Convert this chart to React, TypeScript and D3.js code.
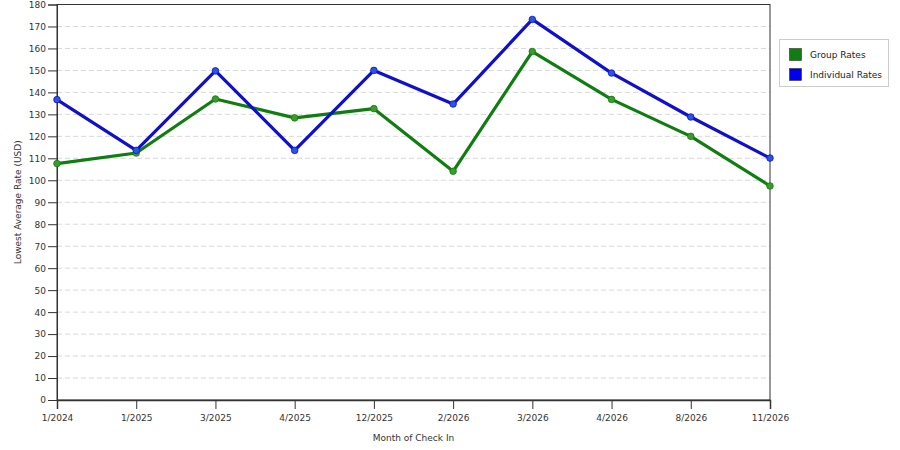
import { useEffect, useRef } from "react";
import * as d3 from "d3";

const months = ["1/2024", "1/2025", "3/2025", "4/2025", "12/2025", "2/2026", "3/2026", "4/2026", "8/2026", "11/2026"];
const groupRates = [107.6, 112.4, 137, 128.4, 132.6, 104.1, 158.6, 136.8, 120, 97.4];
const individualRates = [136.7, 113.6, 149.8, 113.6, 150, 134.7, 173.2, 148.8, 128.8, 110.1];
const yTicks = d3.range(0, 181, 10);
const seriesNames = ["Group Rates", "Individual Rates"];

const App = () => {
	const svgRef = useRef<SVGSVGElement>(null);

	useEffect(() => {
		if (!svgRef.current) return;
		const svg = d3.select(svgRef.current);
		svg.selectAll("*").remove();

		const margin = { top: 4.5, left: 57, right: 130, bottom: 50 };
		const width = 900;
		const height = 450;
		const font = "Tahoma, 'DejaVu Sans', sans-serif";

		const x = d3.scalePoint<string>().domain(months).range([margin.left, width - margin.right]);
		const y = d3.scaleLinear().domain([0, 180]).range([height - margin.bottom, margin.top]);

		// grille
		svg.append("g")
			.selectAll("line")
			.data(yTicks.filter((t) => t > 0 && t < 180))
			.enter()
			.append("line")
			.attr("x1", margin.left)
			.attr("x2", width - margin.right)
			.attr("y1", (d) => y(d))
			.attr("y2", (d) => y(d))
			.attr("stroke", "#d8d8d8")
			.attr("stroke-dasharray", "5,3");

		// cadre
		svg.append("rect")
			.attr("x", margin.left)
			.attr("y", margin.top)
			.attr("width", width - margin.right - margin.left)
			.attr("height", height - margin.bottom - margin.top)
			.attr("fill", "none")
			.attr("stroke", "#333")
			.attr("stroke-width", 1);

		// axe y
		const yAxis = svg.append("g")
			.attr("transform", `translate(${margin.left},0)`)
			.call(d3.axisLeft(y).tickValues(yTicks).tickSize(9).tickPadding(2));
		yAxis.select(".domain").attr("stroke", "#333");
		yAxis.selectAll(".tick line").attr("stroke", "#333");
		yAxis.selectAll(".tick text")
			.attr("font-family", font)
			.attr("font-size", "9px")
			.attr("fill", "#333");

		// axe x
		const xAxis = svg.append("g")
			.attr("transform", `translate(0,${height - margin.bottom})`)
			.call(d3.axisBottom(x).tickSize(9).tickPadding(6));
		xAxis.select(".domain").attr("stroke", "#333").attr("stroke-width", 1.5);
		xAxis.selectAll(".tick line").attr("stroke", "#333");
		xAxis.selectAll(".tick text")
			.attr("font-family", font)
			.attr("font-size", "9px")
			.attr("fill", "#333");

		// titres des axes
		svg.append("text")
			.attr("x", (margin.left + width - margin.right) / 2)
			.attr("y", 441)
			.attr("text-anchor", "middle")
			.attr("font-family", font)
			.attr("font-size", "9px")
			.attr("fill", "#333")
			.text("Month of Check In");

		svg.append("text")
			.attr("transform", `translate(21,${(margin.top + height - margin.bottom) / 2}) rotate(-90)`)
			.attr("text-anchor", "middle")
			.attr("font-family", font)
			.attr("font-size", "9px")
			.attr("fill", "#333")
			.text("Lowest Average Rate (USD)");

		// séries
		const series = [
			{ values: groupRates, color: "#0f7d0f", point: "#3e9a2c" },
			{ values: individualRates, color: "#1010cc", point: "#2a55e0" },
		];
		const line = d3.line<number>()
			.x((_d, i) => x(months[i]) ?? 0)
			.y((d) => y(d));

		series.forEach((s) => {
			svg.append("path")
				.datum(s.values)
				.attr("d", line)
				.attr("fill", "none")
				.attr("stroke", s.color)
				.attr("stroke-width", 3.2)
				.attr("stroke-linejoin", "round");
			svg.append("g")
				.selectAll("circle")
				.data(s.values)
				.enter()
				.append("circle")
				.attr("cx", (_d, i) => x(months[i]) ?? 0)
				.attr("cy", (d) => y(d))
				.attr("r", 3.3)
				.attr("fill", s.point)
				.attr("stroke", s.color)
				.attr("stroke-width", 0.8);
		});

		// légende
		const legend = svg.append("g");
		legend.append("rect")
			.attr("x", 779.5)
			.attr("y", 39.5)
			.attr("width", 109)
			.attr("height", 47)
			.attr("fill", "#fff")
			.attr("stroke", "#ccc");
		seriesNames.forEach((name, i) => {
			legend.append("rect")
				.attr("x", 789.5)
				.attr("y", 48.5 + i * 20)
				.attr("width", 12)
				.attr("height", 12)
				.attr("fill", i === 0 ? "#0f7d0f" : "#0000ee")
				.attr("stroke", "#333")
				.attr("stroke-width", 0.6);
			legend.append("text")
				.attr("x", 810)
				.attr("y", 58 + i * 20)
				.attr("font-family", font)
				.attr("font-size", "9px")
				.attr("fill", "#222")
				.text(name);
		});
	}, []);

	return (
		<svg
			ref={svgRef}
			width={900}
			height={450}
			style={{ position: "absolute", left: 0, top: 0, background: "#fff" }}
		></svg>
	);
};

export default App;
